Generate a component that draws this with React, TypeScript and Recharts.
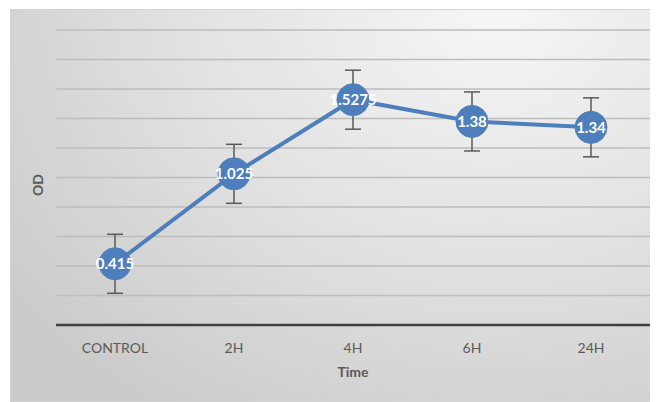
import { CartesianGrid, ErrorBar, LabelList, Line, LineChart, XAxis, YAxis } from "recharts";

const times = ["CONTROL", "2H", "4H", "6H", "24H"];
const od = [0.415, 1.025, 1.5275, 1.38, 1.34];
const odErr = [0.2, 0.2, 0.2, 0.2, 0.2];
const yTicks = [0, 0.2, 0.4, 0.6, 0.8, 1, 1.2, 1.4, 1.6, 1.8, 2];

const data = times.map((t, i) => ({ t, od: od[i], err: odErr[i] }));

const font = "Lato, 'Open Sans', sans-serif";
const blue = "#4e7fbc";

export default function App() {
  return (
    <div
      style={{
        marginLeft: 2,
        marginTop: 1,
        width: 648,
        height: 393,
        boxSizing: "border-box",
        border: "1px solid #d4d4d4",
        background: "radial-gradient(ellipse 95% 125% at 75% 0%, #f6f6f6 0%, #e2e2e2 50%, #cacaca 100%)",
        fontFamily: font,
      }}
    >
      <LineChart width={646} height={391} data={data} margin={{ top: 20, right: 7, bottom: 26, left: 0 }}>
        <CartesianGrid vertical={false} stroke="#bdbdbd" strokeWidth={1.6} />
        <XAxis
          dataKey="t"
          height={50}
          padding={{ left: 59, right: 59 }}
          axisLine={{ stroke: "#404040", strokeWidth: 2.5 }}
          tickLine={false}
          tickMargin={12}
          tick={{ fontSize: 14, fill: "#595959", fontFamily: font }}
          label={{
            content: ({ viewBox }: any) => (
              <text
                x={viewBox.x + viewBox.width / 2}
                y={viewBox.y + 52}
                textAnchor="middle"
                fontSize={14}
                fontWeight="bold"
                fill="#595959"
                fontFamily={font}
              >
                Time
              </text>
            ),
          }}
        />
        <YAxis
          width={45}
          domain={[0, 2]}
          ticks={yTicks}
          tick={() => <g />}
          axisLine={false}
          tickLine={false}
          label={{
            content: ({ viewBox }: any) => (
              <text
                x={viewBox.x + 32}
                y={viewBox.y + 155}
                textAnchor="middle"
                fontSize={14}
                fontWeight="bold"
                fill="#595959"
                fontFamily={font}
                transform={`rotate(-90 ${viewBox.x + 32} ${viewBox.y + 155})`}
              >
                OD
              </text>
            ),
          }}
        />
        <Line
          dataKey="od"
          stroke={blue}
          strokeWidth={4}
          dot={{ r: 16, fill: blue, stroke: blue, strokeWidth: 1 }}
          activeDot={false}
          isAnimationActive={false}
        >
          <ErrorBar dataKey="err" direction="y" width={8} stroke="#595959" strokeWidth={1.5} />
          <LabelList
            dataKey="od"
            position="center"
            fill="#ffffff"
            fontSize={15}
            fontWeight="bold"
            fontFamily={font}
          />
        </Line>
      </LineChart>
    </div>
  );
}
